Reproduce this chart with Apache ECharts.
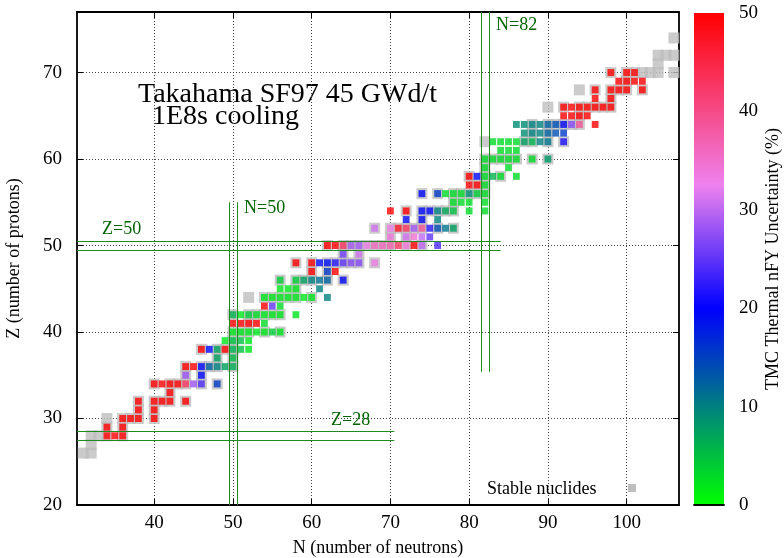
<!DOCTYPE html>
<html>
<head>
<meta charset="utf-8">
<script src="https://cdn.jsdelivr.net/npm/echarts@6/dist/echarts.min.js"></script>
<style>
html, body { margin: 0; padding: 0; background: #fff; }
#chart { width: 784px; height: 558px; }
</style>
</head>
<body>
<div id="chart"></div>
<script>
// tick labels
const nTicks = [40, 50, 60, 70, 80, 90, 100];
const zTicks = [20, 30, 40, 50, 60, 70];
const cbTicks = [0, 10, 20, 30, 40, 50];

// [N, Z, uncertainty %]
const fyZ28to39 = [
  [34, 28, 50], [35, 28, 50], [36, 28, 50],
  [34, 29, 50], [36, 29, 50],
  [36, 30, 50], [37, 30, 50], [38, 30, 50], [40, 30, 50],
  [38, 31, 50], [40, 31, 50],
  [38, 32, 50], [40, 32, 50], [41, 32, 50], [42, 32, 50], [44, 32, 50],
  [42, 33, 50],
  [40, 34, 50], [41, 34, 50], [42, 34, 50], [43, 34, 50], [44, 34, 43], [45, 34, 28], [46, 34, 24], [48, 34, 15.5],
  [44, 35, 28], [46, 35, 19.5],
  [44, 36, 50], [45, 36, 50], [46, 36, 19.5], [47, 36, 12.5], [48, 36, 10], [49, 36, 7.5], [50, 36, 6.5],
  [48, 37, 7.5], [50, 37, 5.5],
  [46, 38, 50], [47, 38, 19.5], [48, 38, 7.5], [49, 38, 50], [50, 38, 6], [51, 38, 5], [52, 38, 2],
  [49, 39, 2], [50, 39, 5], [51, 39, 5], [52, 39, 2]
];
const fyZ40to49 = [
  [50, 40, 2], [51, 40, 2], [52, 40, 2], [53, 40, 2], [54, 40, 2], [55, 40, 4], [56, 40, 2],
  [50, 41, 50], [51, 41, 50], [52, 41, 50], [53, 41, 50], [54, 41, 3],
  [50, 42, 6], [51, 42, 2], [52, 42, 4], [53, 42, 3], [54, 42, 2], [55, 42, 2], [56, 42, 2], [58, 42, 2],
  [54, 43, 50], [55, 43, 25], [56, 43, 3],
  [54, 44, 2], [55, 44, 2], [56, 44, 2], [57, 44, 2], [58, 44, 2], [59, 44, 2], [60, 44, 2], [62, 44, 10],
  [56, 45, 2], [57, 45, 2], [58, 45, 2], [61, 45, 10],
  [56, 46, 4], [58, 46, 4], [59, 46, 7.5], [60, 46, 10], [61, 46, 11.5], [62, 46, 12.5], [64, 46, 19.5],
  [60, 47, 50], [62, 47, 15.5], [63, 47, 50],
  [58, 48, 50], [60, 48, 50], [61, 48, 19.5], [62, 48, 19], [63, 48, 22], [64, 48, 25], [65, 48, 27], [66, 48, 27], [68, 48, 33],
  [64, 49, 26], [66, 49, 31]
];
const fyZ50to59 = [
  [62, 50, 50], [63, 50, 50], [64, 50, 43], [65, 50, 28.5], [66, 50, 28.5], [67, 50, 33], [68, 50, 36], [69, 50, 36],
  [70, 50, 37], [71, 50, 43], [72, 50, 34], [73, 50, 50], [74, 50, 30], [76, 50, 24],
  [70, 51, 34], [72, 51, 31], [73, 51, 35], [74, 51, 30], [75, 51, 25],
  [68, 52, 31], [70, 52, 33], [71, 52, 47], [72, 52, 43], [73, 52, 28.5], [74, 52, 39], [75, 52, 22], [76, 52, 14], [77, 52, 11], [78, 52, 7.5],
  [72, 53, 19.5], [74, 53, 19.5], [76, 53, 10],
  [70, 54, 50], [72, 54, 50], [74, 54, 19.5], [75, 54, 19.5], [76, 54, 10], [77, 54, 7], [78, 54, 5], [80, 54, 3], [82, 54, 3],
  [78, 55, 3], [79, 55, 3], [80, 55, 3], [82, 55, 3],
  [74, 56, 19.5], [76, 56, 15.5], [77, 56, 3], [78, 56, 3], [79, 56, 3], [80, 56, 9], [81, 56, 4], [82, 56, 3],
  [80, 57, 50], [81, 57, 50], [82, 57, 3],
  [80, 58, 50], [81, 58, 19.5], [82, 58, 3], [83, 58, 6], [84, 58, 3], [86, 58, 3],
  [82, 59, 3], [85, 59, 3]
];
const fyZ60to70 = [
  [82, 60, 3], [83, 60, 3], [84, 60, 3], [85, 60, 3], [86, 60, 3], [88, 60, 3], [90, 60, 8],
  [84, 61, 3], [85, 61, 3], [86, 61, 3],
  [83, 62, 3], [84, 62, 3], [85, 62, 3], [86, 62, 3], [87, 62, 7.5], [88, 62, 6], [89, 62, 10], [90, 62, 11], [92, 62, 21.5],
  [87, 63, 9], [88, 63, 10], [89, 63, 10], [90, 63, 12.5], [91, 63, 14], [92, 63, 15.5],
  [86, 64, 9], [87, 64, 9], [88, 64, 10], [89, 64, 10], [90, 64, 12.5], [91, 64, 14], [92, 64, 19.5], [93, 64, 27], [94, 64, 39], [96, 64, 50],
  [92, 65, 50], [93, 65, 50], [94, 65, 50], [95, 65, 50],
  [92, 66, 50], [93, 66, 50], [94, 66, 50], [95, 66, 50], [96, 66, 50], [97, 66, 50], [98, 66, 50],
  [96, 67, 50], [98, 67, 50],
  [96, 68, 50], [98, 68, 50], [99, 68, 50], [100, 68, 50], [102, 68, 50],
  [99, 69, 50], [100, 69, 50], [101, 69, 50], [102, 69, 50],
  [98, 70, 50], [100, 70, 50], [101, 70, 50]
];

// [N, Z] stable nuclides (gray)
const stableNuclides = [
  [31, 26], [32, 26], [32, 27], [32, 28], [33, 28], [34, 28], [36, 28],
  [34, 29], [36, 29], [34, 30], [36, 30], [37, 30], [38, 30], [40, 30],
  [38, 31], [40, 31], [38, 32], [40, 32], [41, 32], [42, 32], [44, 32], [42, 33],
  [40, 34], [42, 34], [43, 34], [44, 34], [46, 34], [48, 34], [44, 35], [46, 35],
  [44, 36], [46, 36], [47, 36], [48, 36], [50, 36], [48, 37], [50, 37],
  [46, 38], [48, 38], [49, 38], [50, 38], [50, 39],
  [50, 40], [51, 40], [52, 40], [54, 40], [56, 40], [52, 41],
  [50, 42], [52, 42], [53, 42], [54, 42], [55, 42], [56, 42],
  [52, 44], [54, 44], [55, 44], [56, 44], [57, 44], [58, 44], [60, 44], [58, 45],
  [56, 46], [58, 46], [59, 46], [60, 46], [62, 46], [64, 46], [60, 47], [62, 47],
  [58, 48], [60, 48], [62, 48], [63, 48], [64, 48], [65, 48], [66, 48], [68, 48], [64, 49], [66, 49],
  [62, 50], [64, 50], [65, 50], [66, 50], [67, 50], [68, 50], [69, 50], [70, 50], [72, 50], [74, 50],
  [70, 51], [72, 51],
  [68, 52], [70, 52], [71, 52], [72, 52], [73, 52], [74, 52], [76, 52], [78, 52], [74, 53],
  [72, 54], [74, 54], [75, 54], [76, 54], [77, 54], [78, 54], [78, 55],
  [74, 56], [76, 56], [78, 56], [79, 56], [80, 56], [81, 56], [82, 56], [81, 57], [82, 57],
  [80, 58], [82, 58], [84, 58], [82, 59],
  [82, 60], [83, 60], [84, 60], [85, 60], [86, 60], [88, 60], [90, 60],
  [82, 62], [87, 62], [88, 62], [90, 62], [92, 62], [88, 63], [90, 63],
  [88, 64], [90, 64], [91, 64], [92, 64], [93, 64], [94, 64], [94, 65],
  [90, 66], [92, 66], [94, 66], [95, 66], [96, 66], [97, 66], [98, 66], [98, 67],
  [94, 68], [96, 68], [98, 68], [99, 68], [100, 68], [102, 68], [100, 69],
  [98, 70], [100, 70], [101, 70], [102, 70], [103, 70], [104, 70], [106, 70],
  [104, 71], [104, 72], [105, 72], [106, 72], [106, 74]
];

// colour stops of the uncertainty palette
const paletteStops = [
  [0, [0, 255, 0]],
  [20, [0, 0, 255]],
  [32.5, [238, 130, 238]],
  [50, [255, 0, 0]]
];

const FONT = 'Liberation Serif';
const TEXT_GREEN = '#006400';
const LINE_GREEN = '#1f8a1f';

const uncColor = (v) => {
  v = Math.max(0, Math.min(50, v));
  for (let i = 1; i < paletteStops.length; i++) {
    const [v1, c1] = paletteStops[i];
    const [v0, c0] = paletteStops[i - 1];
    if (v <= v1) {
      const t = (v - v0) / (v1 - v0);
      const c = c0.map((a, k) => Math.round(a + (c1[k] - a) * t));
      return 'rgb(' + c.join(',') + ')';
    }
  }
  return 'rgb(255,0,0)';
};

const chart = echarts.init(document.getElementById('chart'));

const mainAxisCommon = {
  type: 'value',
  gridIndex: 0,
  axisLine: { onZero: false, lineStyle: { color: '#000', width: 1.8 } },
  axisTick: { inside: true, length: 6, lineStyle: { color: '#000', width: 1 } }
};
const gridDots = { show: true, lineStyle: { color: '#444', width: 1, type: [1, 2] } };

const option = {
  animation: false,
  textStyle: { fontFamily: FONT },
  grid: [
    { left: 77, top: 12, width: 602, height: 493, containLabel: false, outerBoundsMode: 'none' },
    { left: 694, top: 13, width: 30, height: 492, containLabel: false, outerBoundsMode: 'none' }
  ],
  xAxis: [
    Object.assign({}, mainAxisCommon, {
      min: 30.2, max: 106.65,
      name: 'N (number of neutrons)',
      nameLocation: 'middle', nameGap: 34,
      nameTextStyle: { fontSize: 18, color: '#000', fontFamily: FONT },
      axisTick: Object.assign({}, mainAxisCommon.axisTick, { customValues: nTicks }),
      axisLabel: { customValues: nTicks, fontSize: 19, color: '#000', margin: 9, fontFamily: FONT },
      splitLine: gridDots
    }),
    Object.assign({}, mainAxisCommon, {
      position: 'top', min: 30.2, max: 106.65,
      axisTick: Object.assign({}, mainAxisCommon.axisTick, { customValues: nTicks }),
      axisLabel: { show: false },
      splitLine: { show: false }
    }),
    {
      type: 'category', gridIndex: 1, data: ['cb'], z: 5,
      axisLine: { lineStyle: { color: '#000', width: 1.5 } },
      axisTick: { show: false }, axisLabel: { show: false }
    },
    {
      type: 'category', gridIndex: 1, data: ['cb'], position: 'top', z: 5,
      axisLine: { lineStyle: { color: '#000', width: 1.5 } },
      axisTick: { show: false }, axisLabel: { show: false }
    }
  ],
  yAxis: [
    Object.assign({}, mainAxisCommon, {
      min: 20, max: 77,
      name: 'Z (number of protons)',
      nameLocation: 'middle', nameGap: 54, nameRotate: 90,
      nameTextStyle: { fontSize: 18, color: '#000', fontFamily: FONT },
      axisTick: Object.assign({}, mainAxisCommon.axisTick, { customValues: zTicks }),
      axisLabel: { customValues: zTicks, fontSize: 19, color: '#000', margin: 15, fontFamily: FONT },
      splitLine: gridDots
    }),
    Object.assign({}, mainAxisCommon, {
      position: 'right', min: 20, max: 77,
      axisTick: Object.assign({}, mainAxisCommon.axisTick, { customValues: zTicks }),
      axisLabel: { show: false },
      splitLine: { show: false }
    }),
    {
      type: 'value', gridIndex: 1, position: 'right', min: 0, max: 50, interval: 10, z: 5,
      name: 'TMC Thermal nFY Uncertainty (%)',
      nameLocation: 'middle', nameGap: 40, nameRotate: 90,
      nameTextStyle: { fontSize: 18, color: '#000', fontFamily: FONT },
      axisLine: { lineStyle: { color: '#000', width: 1.5 } },
      axisTick: { inside: true, length: 6, lineStyle: { color: '#000' } },
      axisLabel: { fontSize: 19, color: '#000', margin: 15, fontFamily: FONT },
      splitLine: { show: false }
    },
    {
      type: 'value', gridIndex: 1, position: 'left', min: 0, max: 50, interval: 10, z: 5,
      axisLine: { lineStyle: { color: '#000', width: 1.5 } },
      axisTick: { inside: true, length: 6, lineStyle: { color: '#000' } },
      axisLabel: { show: false },
      splitLine: { show: false }
    }
  ],
  series: [
    {
      // shell-closure guide lines
      type: 'line', xAxisIndex: 0, yAxisIndex: 0, data: [], z: 1, silent: true,
      markLine: {
        symbol: 'none', silent: true, animation: false,
        label: { show: false },
        lineStyle: { color: LINE_GREEN, width: 1, type: 'solid', opacity: 1 },
        emphasis: { disabled: true },
        data: [
          [{ coord: [49.5, 20] }, { coord: [49.5, 55] }],
          [{ coord: [50.5, 20] }, { coord: [50.5, 55] }],
          [{ coord: [81.5, 35.4] }, { coord: [81.5, 77] }],
          [{ coord: [82.5, 35.4] }, { coord: [82.5, 77] }],
          [{ coord: [30.2, 49.5] }, { coord: [84, 49.5] }],
          [{ coord: [30.2, 50.5] }, { coord: [84, 50.5] }],
          [{ coord: [30.2, 27.5] }, { coord: [70.5, 27.5] }],
          [{ coord: [30.2, 28.5] }, { coord: [70.5, 28.5] }]
        ]
      }
    },
    {
      name: 'Stable nuclides',
      type: 'scatter', xAxisIndex: 0, yAxisIndex: 0, z: 2, silent: true,
      symbol: 'rect', symbolSize: 11,
      itemStyle: { color: '#bebebe' },
      data: stableNuclides
    },
    {
      name: 'nFY uncertainty',
      type: 'scatter', xAxisIndex: 0, yAxisIndex: 0, z: 3, silent: true,
      symbol: 'rect', symbolSize: [6.8, 7],
      itemStyle: { color: (p) => uncColor(p.value[2]) },
      data: [].concat(fyZ28to39, fyZ40to49, fyZ50to59, fyZ60to70)
    },
    {
      // colour box
      type: 'bar', xAxisIndex: 2, yAxisIndex: 2, silent: true,
      barWidth: '100%', data: [50],
      itemStyle: {
        color: new echarts.graphic.LinearGradient(0, 1, 0, 0, paletteStops.map(s => ({
          offset: s[0] / 50, color: 'rgb(' + s[1].join(',') + ')'
        })))
      }
    }
  ],
  graphic: [
    { type: 'text', style: { x: 138, y: 95, text: 'Takahama SF97 45 GWd/t', font: '28px "Liberation Serif"', fill: '#000', verticalAlign: 'middle' } },
    { type: 'text', style: { x: 152, y: 117, text: '1E8s cooling', font: '28px "Liberation Serif"', fill: '#000', verticalAlign: 'middle' } },
    { type: 'text', style: { x: 496, y: 25, text: 'N=82', font: '18px "Liberation Serif"', fill: TEXT_GREEN, verticalAlign: 'middle' } },
    { type: 'text', style: { x: 244, y: 208, text: 'N=50', font: '18px "Liberation Serif"', fill: TEXT_GREEN, verticalAlign: 'middle' } },
    { type: 'text', style: { x: 102, y: 229, text: 'Z=50', font: '18px "Liberation Serif"', fill: TEXT_GREEN, verticalAlign: 'middle' } },
    { type: 'text', style: { x: 331, y: 420, text: 'Z=28', font: '18px "Liberation Serif"', fill: TEXT_GREEN, verticalAlign: 'middle' } },
    { type: 'text', style: { x: 487, y: 489, text: 'Stable nuclides', font: '18px "Liberation Serif"', fill: '#000', verticalAlign: 'middle' } },
    { type: 'rect', shape: { x: 628, y: 484, width: 8, height: 8 }, style: { fill: '#bebebe' } }
  ]
};

chart.setOption(option);
</script>
</body>
</html>
